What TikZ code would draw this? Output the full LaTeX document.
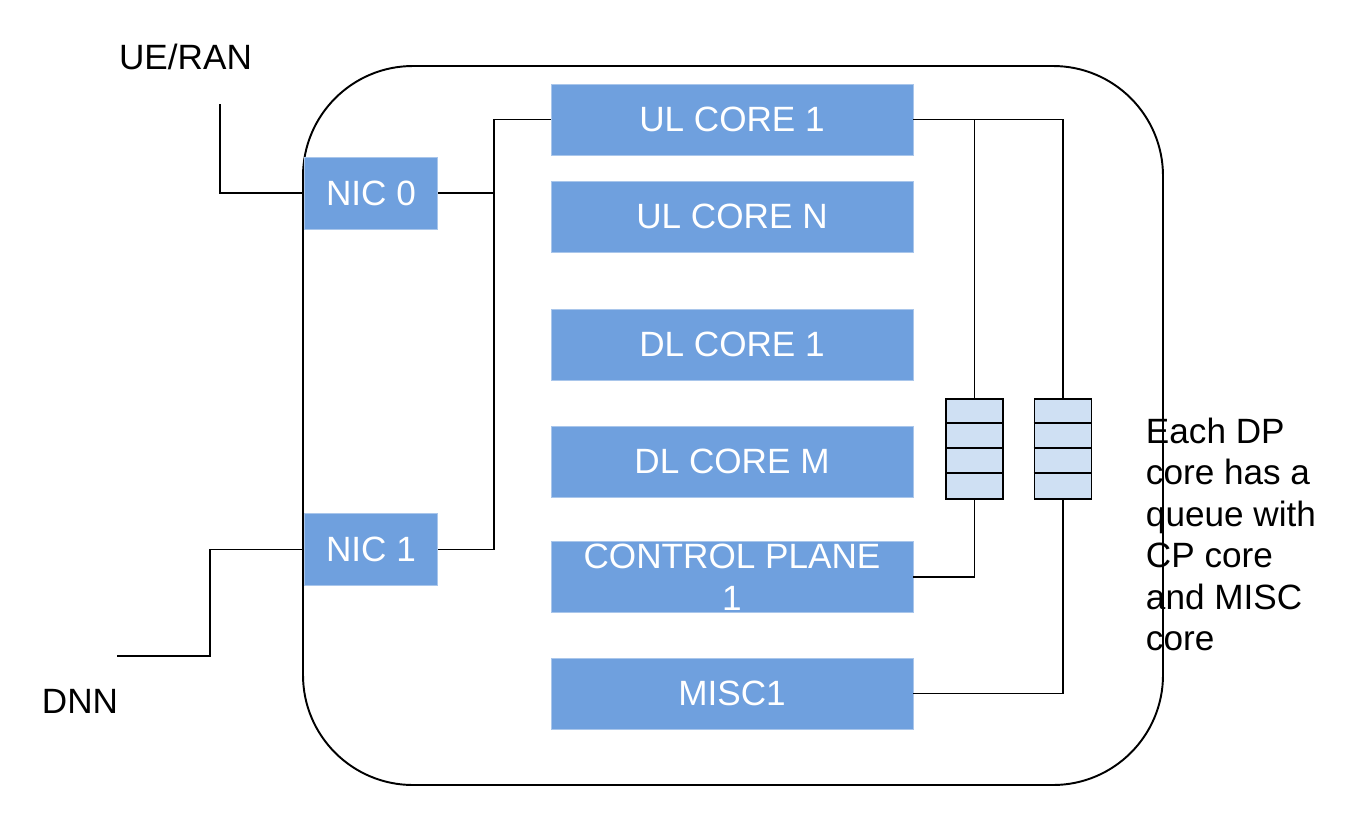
\documentclass[tikz,border=0pt]{standalone}
\usepackage{fontspec}
\setmainfont{Liberation Sans}
\usepackage{tikz}
\definecolor{coreblue}{HTML}{6FA0DE}
\definecolor{queueblue}{HTML}{CFE0F3}

\begin{document}
\begin{tikzpicture}[x=0.02cm, y=-0.02cm, line width=1.1pt,
  font=\fontsize{20}{23.6}\selectfont,
  core/.style={fill=coreblue, draw=coreblue!60!white, line width=0.5pt, text=white,
    minimum width=7.24cm, minimum height=1.42cm, inner sep=0pt, align=center},
  nicbox/.style={core, minimum width=2.66cm, minimum height=1.44cm},
  queue/.style={fill=queueblue, draw, minimum width=1.14cm, minimum height=2cm, inner sep=0pt}]
  \useasboundingbox (0,0) rectangle (1372,815);
  \draw[rounded corners=2.2cm] (303,66) rectangle (1163,785);
  % network cards
  \node[nicbox] (nic0) at (371,193) {NIC 0};
  \node[nicbox] (nic1) at (371,549.5) {NIC 1};
  % cores
  \node[core] (ul1) at (732,119.5) {UL CORE 1};
  \node[core] (uln) at (732,216.5) {UL CORE N};
  \node[core] (dl1) at (732,344.5) {DL CORE 1};
  \node[core] (dlm) at (732,461.5) {DL CORE M};
  \node[core] (cp) at (732,577) {CONTROL PLANE\\1};
  \node[core] (misc) at (732,693.5) {MISC1};
  % queues
  \node[queue] (qa) at (974.5,449) {};
  \node[queue] (qb) at (1063,449) {};
  \foreach \q in {qa,qb}
    \foreach \k in {1,2,3}
      \draw ([yshift=-\k*0.5cm]\q.north west) -- ([yshift=-\k*0.5cm]\q.north east);
  % labels
  \node (ran) at (185.5,57) {UE/RAN};
  \node (dn) at (80,701.5) {DNN};
  \node[anchor=north west, inner sep=0pt, align=left] (note) at (1145,417)
    {Each DP\\core has a\\queue with\\CP core\\and MISC\\core};
  % wires
  \coordinate (ue) at (220,104);
  \coordinate (dnn) at (117,656);
  \coordinate (bus) at (494,120);
  \draw (ue) |- (nic0.west);
  \draw (dnn) -- ++(93,0) |- (nic1.west);
  \draw (ul1.west) -| (bus |- nic1.east) -- (nic1.east);
  \draw (nic0.east) -- (bus |- nic0.east);
  \draw (ul1.east) -| (qb.north);
  \draw (qa.north) |- (ul1.east);
  \draw (qa.south) |- (cp.east);
  \draw (qb.south) |- (misc.east);
\end{tikzpicture}
\end{document}
